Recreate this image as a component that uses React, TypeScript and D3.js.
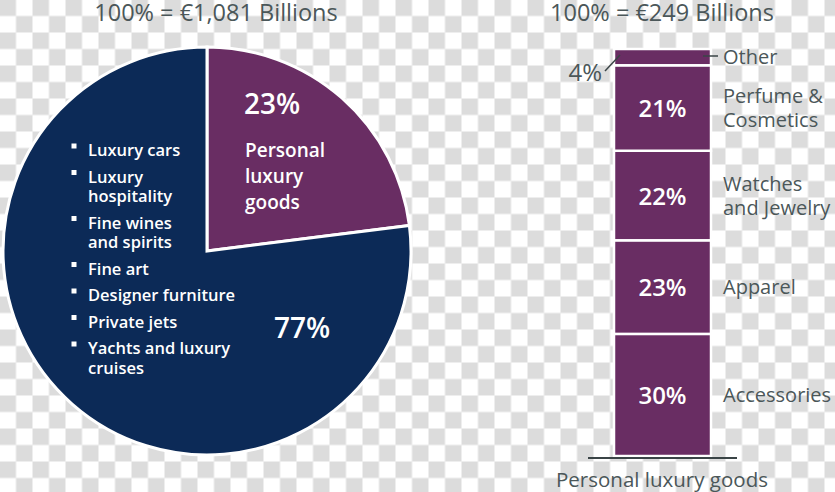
import React from "react";
import * as d3 from "d3";

const W = 835;
const H = 492;

// Market split (left pie)
const pieCategories = ["Personal luxury goods", "Other luxury"];
const pieValues = [23, 77];
const pieTotalLabel = "100% = €1,081 Billions";
const otherLuxuryItems = [
  ["Luxury cars"],
  ["Luxury", "hospitality"],
  ["Fine wines", "and spirits"],
  ["Fine art"],
  ["Designer furniture"],
  ["Private jets"],
  ["Yachts and luxury", "cruises"],
];

// Personal luxury goods split (right stacked bar), bottom to top
const barCategories = [["Accessories"], ["Apparel"], ["Watches", "and Jewelry"], ["Perfume &", "Cosmetics"], ["Other"]];
const barValues = [30, 23, 22, 21, 4];
const barTotalLabel = "100% = €249 Billions";
const barAxisLabel = "Personal luxury goods";

const NAVY = "#0c2a57";
const PURPLE = "#692d63";
const GRAY = "#4b5759";
const FONT = "'Open Sans', 'Noto Sans', sans-serif";

export default function App() {
  // Pie
  const cx = 207, cy = 251, r = 204;
  const pie = d3.pie<number>().sort(null).value((d) => d)(pieValues);
  const arc = d3.arc<d3.PieArcDatum<number>>().innerRadius(0).outerRadius(r);

  // Bar
  const y = d3.scaleLinear().domain([0, d3.sum(barValues)]).range([456, 49]);
  const x = d3.scaleBand().domain(["Personal luxury goods"]).range([588, 737]).paddingInner(0).paddingOuter(0.268);
  const bx = x("Personal luxury goods")!;
  const bw = x.bandwidth();
  const cum = d3.cumsum(barValues);
  const segs = barValues.map((v, i) => ({ v, y0: cum[i] - v, y1: cum[i], label: barCategories[i] }));

  let yy = 156;
  const listPos: number[] = [];
  otherLuxuryItems.forEach((it, i) => {
    if (i > 0) {
      yy += otherLuxuryItems[i - 1].length > 1 ? 46 : 26.5;
    }
    listPos.push(yy);
  });

  return (
    <svg width={W} height={H} style={{ position: "absolute", left: 0, top: 0, fontFamily: FONT }}>
      <defs>
        <pattern id="checker" patternUnits="userSpaceOnUse" width={33} height={33} x={-0.5} y={-0.5}>
          <rect width={33} height={33} fill="#ffffff" />
          <rect x={0} y={0} width={16.5} height={16.5} fill="#dcdcdc" />
          <rect x={16.5} y={16.5} width={16.5} height={16.5} fill="#dcdcdc" />
        </pattern>
      </defs>
      <rect width={W} height={H} fill="url(#checker)" />

      {/* Titles */}
      <text x={216} y={21} textAnchor="middle" fontSize={23.5} fill={GRAY}>{pieTotalLabel}</text>
      <text x={662} y={21} textAnchor="middle" fontSize={23.5} fill={GRAY}>{barTotalLabel}</text>

      {/* Pie */}
      <g transform={`translate(${cx},${cy})`}>
        {pie.map((p, i) => (
          <path key={i} d={arc(p)!} fill={i === 0 ? PURPLE : NAVY} stroke="#ffffff" strokeWidth={3} strokeLinejoin="miter" />
        ))}
      </g>

      {/* Pie labels */}
      <text x={244} y={114} fontSize={28} fontWeight={600} fill="#fff">{pieValues[0]}%</text>
      {["Personal", "luxury", "goods"].map((t, i) => (
        <text key={t} x={245} y={157 + i * 26} fontSize={19} fontWeight={600} fill="#fff">{t}</text>
      ))}
      <text x={274} y={338} fontSize={28} fontWeight={600} fill="#fff">{pieValues[1]}%</text>

      {otherLuxuryItems.map((lines, i) => (
        <g key={i}>
          <rect x={71.5} y={listPos[i] - 12.5} width={5} height={5} fill="#fff" />
          {lines.map((l, j) => (
            <text key={j} x={88} y={listPos[i] + j * 19.5} fontSize={16.5} fontWeight={600} fill="#fff">{l}</text>
          ))}
        </g>
      ))}

      {/* Stacked bar */}
      {segs.map((s, i) => (
        <rect key={i} x={bx} y={y(s.y1)} width={bw} height={y(s.y0) - y(s.y1)} fill={PURPLE} stroke="#fff" strokeWidth={2.5} />
      ))}
      {segs.map((s, i) => {
        const mid = (y(s.y0) + y(s.y1)) / 2;
        return (
          <g key={"l" + i}>
            {s.v >= 10 && (
              <text x={bx + bw / 2} y={mid + 9} textAnchor="middle" fontSize={24} fontWeight={600} fill="#fff">{s.v}%</text>
            )}
            {s.label.map((l, j) => (
              <text key={j} x={723} y={mid + 7 + (j - (s.label.length - 1) / 2) * 24} fontSize={20} fill={GRAY}>{l}</text>
            ))}
          </g>
        );
      })}
      {/* Small "Other" segment annotations */}
      <line x1={703} x2={718} y1={56} y2={56} stroke="#3a4446" strokeWidth={1.5} />
      <line x1={605} y1={71} x2={620} y2={55} stroke="#3a4446" strokeWidth={1.5} />
      <text x={602} y={81} textAnchor="end" fontSize={24} fill={GRAY}>{barValues[4]}%</text>

      <line x1={x.range()[0]} x2={x.range()[1]} y1={458} y2={458} stroke="#3a4446" strokeWidth={2} />
      <text x={662} y={487} textAnchor="middle" fontSize={20.5} fill={GRAY}>{barAxisLabel}</text>
    </svg>
  );
}
